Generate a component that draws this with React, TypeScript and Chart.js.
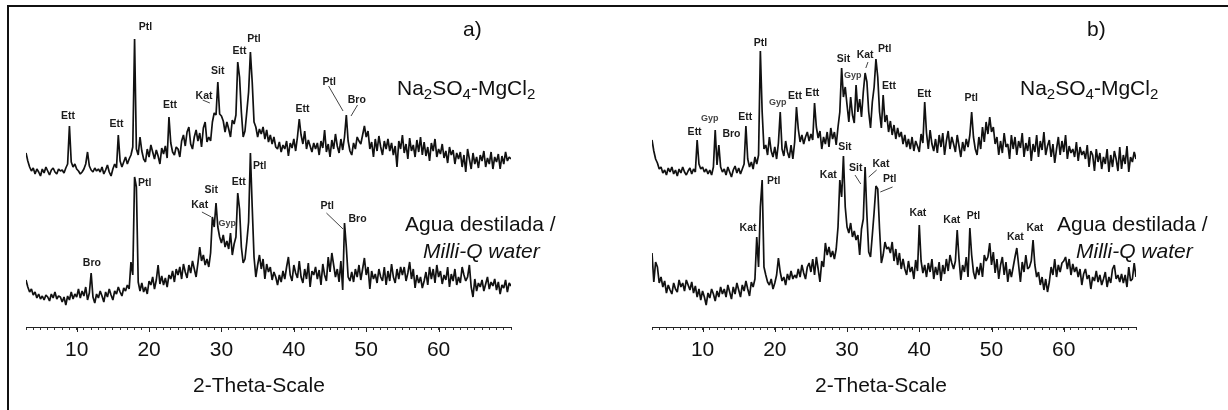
import React, { useEffect, useRef } from "react";
import { Chart, registerables } from "chart.js";

Chart.register(...registerables);

// Intensity readings every 0.25 deg 2-theta, from 3 to 70; each row covers 5 deg.
const aSulfate = [
  174,166,160,156,159,153,158,155,151,158,154,160,156,152,157,159,155,153,158,156, // 3
  157,154,159,163,201,165,160,163,158,156,153,155,158,163,175,161,157,155,159,156, // 8
  158,155,160,153,157,162,155,151,158,163,159,192,166,160,165,170,163,168,172,180, // 13
  288,178,172,190,176,168,165,178,170,182,175,168,177,171,163,179,173,181,169,210, // 18
  184,175,172,180,178,170,186,192,181,195,200,183,178,190,197,186,194,180,199,205, // 23
  185,190,186,205,214,212,245,213,211,206,195,205,198,190,207,203,212,265,250,215, // 28
  190,196,215,235,275,245,205,200,190,198,193,200,188,197,185,192,183,190,180,178, // 33
  185,175,182,178,186,171,184,179,188,176,190,208,192,183,196,178,187,181,175,184, // 38
  178,184,172,186,179,197,175,183,170,187,178,193,181,174,188,177,190,212,186,176, // 43
  172,184,178,190,186,183,192,201,190,196,178,185,170,188,176,191,180,172,186,178, // 48
  188,176,184,172,181,160,186,178,192,174,183,168,189,176,182,170,187,175,190,172, // 53
  185,171,180,166,184,176,188,170,178,173,183,169,176,164,180,172,177,163,174,168, // 58
  175,160,172,155,178,168,158,174,163,170,159,172,166,176,160,169,163,175,158,170, // 63
  165,173,158,171,163,175,166,170,168, // 68
];
const aWater = [
  47,40,35,38,32,35,29,33,28,31,27,32,30,26,33,29,35,28,31,30, // 3
  25,30,22,31,27,35,28,33,30,38,29,36,31,40,27,34,54,30,24,33, // 8
  29,36,31,25,35,30,38,32,27,36,33,40,35,31,39,36,42,38,65,52, // 13
  150,140,45,36,44,35,40,33,46,42,50,38,47,62,43,51,42,49,40,52, // 18
  48,56,45,58,52,60,48,63,55,49,62,54,66,58,50,64,80,66,72,62, // 23
  68,60,74,110,100,124,100,90,84,92,80,86,78,94,72,83,90,134,118,80, // 28
  64,68,85,105,174,120,70,50,62,72,58,68,48,63,55,60,47,55,50,42, // 33
  52,45,56,48,60,70,52,46,62,54,49,66,50,44,58,48,64,40,56,52, // 38
  60,48,57,42,63,52,46,70,55,74,62,50,58,45,66,37,104,80,50,46, // 43
  55,45,58,50,62,47,58,69,52,60,38,56,48,53,44,58,50,46,60,42, // 48
  56,46,63,50,44,58,48,60,52,60,46,54,65,48,58,39,52,44,50,39, // 53
  46,55,42,60,48,58,44,62,50,56,43,52,47,60,40,53,46,58,42,50, // 58
  44,60,52,46,50,62,40,30,48,36,44,40,47,36,43,50,38,45,41,48, // 63
  37,45,33,42,39,47,35,44,41, // 68
];
const bSulfate = [
  187,176,168,164,158,160,154,157,152,159,155,160,153,157,151,158,154,160,155,152, // 3
  156,159,153,158,155,187,163,158,160,155,158,153,157,152,160,197,162,182,160,155, // 8
  158,152,160,155,150,157,161,154,159,153,158,163,201,168,160,165,158,170,163,172, // 13
  276,215,178,182,172,190,176,170,180,168,184,215,178,171,186,175,169,182,168,185, // 18
  220,198,185,192,183,190,195,186,193,187,224,200,189,196,178,190,183,195,180,199, // 23
  188,195,182,200,215,259,230,240,222,205,230,212,204,242,215,228,210,235,254,245, // 28
  215,199,225,240,268,250,215,199,232,205,212,195,206,192,202,188,199,190,195,183, // 33
  192,180,188,178,190,176,186,181,175,193,184,225,194,178,197,183,176,188,174,192, // 38
  180,194,172,186,196,178,190,183,175,192,181,170,185,176,188,180,192,215,190,178, // 43
  172,190,178,200,185,205,193,210,195,200,183,190,172,186,174,194,180,183,168,192, // 48
  178,190,172,186,179,194,170,184,176,190,166,183,175,192,170,186,177,195,172,181, // 53
  187,170,183,164,178,190,172,186,175,192,168,181,174,178,170,185,166,180,172,176, // 58
  168,182,160,176,172,156,178,165,174,158,170,163,178,155,172,160,176,168,156,180, // 63
  158,172,163,181,155,170,165,175,168, // 68
];
const bWater = [
  74,45,65,60,44,50,40,46,34,42,37,33,44,38,35,47,40,44,36,47, // 3
  42,37,45,34,41,30,38,27,36,30,22,34,29,38,33,26,36,30,40,33, // 8
  38,30,42,35,28,40,33,44,37,30,42,36,46,38,31,45,40,48,90,60, // 13
  120,147,60,52,45,42,48,38,44,52,69,55,46,50,42,53,47,56,48,52, // 18
  49,58,50,62,54,48,60,64,55,68,52,70,58,45,66,60,84,72,80,70, // 23
  76,68,78,100,147,130,171,120,100,94,104,90,96,87,92,72,98,108,160,112, // 28
  75,70,92,115,141,138,98,64,72,85,78,80,74,85,66,78,62,74,58,68, // 33
  58,52,66,55,60,48,67,56,102,66,54,62,50,64,55,68,48,60,52,65, // 38
  46,62,53,68,56,72,64,58,66,97,68,47,62,55,70,50,99,72,55,48, // 43
  60,52,64,50,72,66,70,84,62,75,54,68,48,62,70,52,65,45,58,50, // 48
  60,70,79,62,45,65,55,72,58,60,66,87,62,50,55,42,50,37,48,35, // 53
  45,60,52,68,50,62,55,64,66,70,58,68,52,63,55,60,50,58,42,53, // 58
  58,48,52,38,50,46,56,45,52,42,48,55,40,50,44,58,62,48,52,45, // 63
  53,44,52,40,60,46,48,64,50, // 68
];

const startTheta = 3;
const stepTheta = 0.25;
const majorTicks = [10, 20, 30, 40, 50, 60];

// Phase labels: [text, 2-theta, intensity, size class]
const aLabels: [string, number, number, number?][] = [
  ["Ett", 8.8, 211], ["Ett", 15.5, 203], ["Ptl", 19.5, 300], ["Ett", 22.9, 222],
  ["Kat", 27.6, 231], ["Sit", 29.5, 256], ["Ett", 32.5, 276], ["Ptl", 34.5, 288],
  ["Ett", 41.2, 218], ["Ptl", 44.9, 245], ["Bro", 48.7, 227],
  ["Ptl", 19.4, 144], ["Sit", 28.6, 137], ["Ett", 32.4, 145], ["Ptl", 35.3, 161],
  ["Kat", 27, 122], ["Gyp", 30.8, 103, 1], ["Bro", 12.1, 64], ["Ptl", 44.6, 121], ["Bro", 48.8, 108],
];
const bLabels: [string, number, number, number?][] = [
  ["Ett", 8.9, 195], ["Gyp", 11, 208, 1], ["Bro", 14, 193], ["Ett", 15.9, 210], ["Ptl", 18, 284],
  ["Gyp", 20.4, 224, 1], ["Ett", 22.8, 231], ["Ett", 25.2, 234], ["Sit", 29.5, 268], ["Gyp", 30.8, 251, 1],
  ["Kat", 32.5, 272], ["Ptl", 35.2, 278], ["Ett", 35.8, 241], ["Ett", 40.7, 233], ["Ptl", 47.2, 229],
  ["Ptl", 19.85, 146], ["Sit", 29.7, 180], ["Kat", 27.4, 152], ["Sit", 31.2, 159], ["Kat", 34.7, 163],
  ["Ptl", 35.9, 148], ["Kat", 16.3, 99], ["Kat", 39.8, 114], ["Kat", 44.5, 107], ["Ptl", 47.5, 111],
  ["Kat", 53.3, 90], ["Kat", 56, 99],
];
// Leader lines: [theta1, intensity1, theta2, intensity2]
const aLeaders = [
  [27.4, 227, 28.4, 224], [44.8, 241, 46.8, 216], [48.8, 222, 47.9, 211],
  [27.3, 115, 28.6, 110], [44.5, 114, 46.8, 98],
];
const bLeaders = [
  [32.9, 265, 32.6, 259], [31.1, 152, 31.9, 143], [34.1, 157, 33, 150], [36.3, 140, 34.6, 135],
];

const FONT = '"Liberation Sans", Arial, sans-serif';

const annotate = (labels: any[], leaders: number[][]) => ({
  id: "phaseLabels",
  afterDatasetsDraw(chart: any) {
    const { ctx, scales } = chart;
    const x = scales.x;
    const y = scales.y;
    ctx.save();
    // long ticks at the decades
    ctx.strokeStyle = "#222";
    ctx.lineWidth = 1;
    majorTicks.forEach((t) => {
      const px = Math.round(x.getPixelForValue(t)) + 0.5;
      ctx.beginPath();
      ctx.moveTo(px, y.bottom);
      ctx.lineTo(px, y.bottom + 5);
      ctx.stroke();
    });
    ctx.strokeStyle = "#444";
    leaders.forEach(([a, b, c, d]) => {
      ctx.beginPath();
      ctx.moveTo(x.getPixelForValue(a), y.getPixelForValue(b));
      ctx.lineTo(x.getPixelForValue(c), y.getPixelForValue(d));
      ctx.stroke();
    });
    ctx.textAlign = "center";
    ctx.textBaseline = "middle";
    labels.forEach(([text, t, v, small]) => {
      ctx.font = `bold ${small ? 9 : 10.5}px ${FONT}`;
      ctx.fillStyle = small ? "#444" : "#1c1c1c";
      ctx.fillText(text, x.getPixelForValue(t), y.getPixelForValue(v));
    });
    ctx.restore();
  },
});

function Panel({ left, padLeft, padRight, upper, lower, labels, leaders }: any) {
  const ref = useRef<HTMLCanvasElement>(null);
  useEffect(() => {
    const toPoints = (vals: number[]) =>
      vals.map((v, i) => ({ x: startTheta + i * stepTheta, y: v }));
    const style = { borderColor: "#111111", borderWidth: 1.7, pointRadius: 0, tension: 0, borderJoinStyle: "bevel" as const };
    const chart = new Chart(ref.current as HTMLCanvasElement, {
      type: "line",
      data: {
        datasets: [
          { label: "Na2SO4-MgCl2", data: toPoints(upper), ...style },
          { label: "Agua destilada / Milli-Q water", data: toPoints(lower), ...style },
        ],
      },
      options: {
        responsive: false,
        animation: false,
        layout: { padding: { left: padLeft, right: padRight, top: 0, bottom: 0 } },
        plugins: { legend: { display: false }, title: { display: false }, tooltip: { enabled: false } },
        scales: {
          x: {
            type: "linear",
            min: 3,
            max: 70,
            afterFit: (s: any) => { s.height = 83; },
            border: { color: "#222", width: 1 },
            grid: { drawOnChartArea: false, tickLength: 3, tickColor: "#333", tickWidth: 1 },
            ticks: {
              stepSize: 1,
              autoSkip: false,
              maxRotation: 0,
              padding: 8,
              color: "#111",
              font: { family: FONT, size: 21 },
              callback: (v: any) => (majorTicks.includes(v) ? String(v) : ""),
            },
          },
          y: { type: "linear", min: 0, max: 327, display: false },
        },
      },
      plugins: [annotate(labels, leaders)],
    });
    return () => chart.destroy();
  }, []);
  return (
    <canvas
      ref={ref}
      width={614}
      height={410}
      style={{ position: "absolute", left, top: 0, width: 614, height: 410 }}
    />
  );
}

const textBase: React.CSSProperties = {
  position: "absolute",
  fontFamily: FONT,
  fontSize: 21,
  lineHeight: "24px",
  color: "#111",
  whiteSpace: "nowrap",
};

function Note({ x, base, children, italic }: any) {
  return (
    <div style={{ ...textBase, left: x, top: base - 19, fontStyle: italic ? "italic" : "normal" }}>{children}</div>
  );
}

const subStyle: React.CSSProperties = { fontSize: 15, position: "relative", top: 4 };
const Formula = () => (
  <>
    Na<span style={subStyle}>2</span>SO<span style={subStyle}>4</span>-MgCl<span style={subStyle}>2</span>
  </>
);

export default function App() {
  return (
    <div style={{ position: "absolute", left: 0, top: 0, width: 1228, height: 410, overflow: "hidden", background: "#fff" }}>
      <Panel left={0} padLeft={26} padRight={103} upper={aSulfate} lower={aWater} labels={aLabels} leaders={aLeaders} />
      <Panel left={614} padLeft={38} padRight={92} upper={bSulfate} lower={bWater} labels={bLabels} leaders={bLeaders} />
      <div style={{ position: "absolute", left: 7, top: 5, width: 1221, height: 405, borderTop: "2px solid #111", borderLeft: "2px solid #111", boxSizing: "border-box" }} />
      <Note x={463} base={36}>a)</Note>
      <Note x={1087} base={36}>b)</Note>
      <Note x={397} base={95}><Formula /></Note>
      <Note x={1020} base={95}><Formula /></Note>
      <Note x={405} base={231}>Agua destilada /</Note>
      <Note x={423} base={258} italic>Milli-Q water</Note>
      <Note x={1057} base={231}>Agua destilada /</Note>
      <Note x={1076} base={258} italic>Milli-Q water</Note>
      <Note x={193} base={392}>2-Theta-Scale</Note>
      <Note x={815} base={392}>2-Theta-Scale</Note>
    </div>
  );
}
